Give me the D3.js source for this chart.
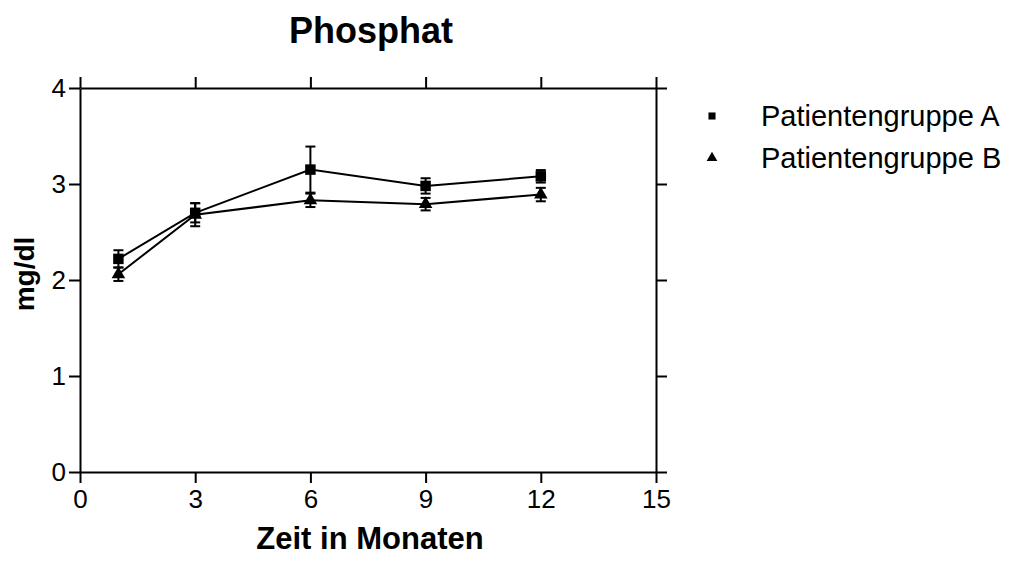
<!DOCTYPE html>
<html>
<head>
<meta charset="utf-8">
<script src="https://cdn.jsdelivr.net/npm/d3@7.9.0/dist/d3.min.js"></script>
<style>
  body { margin: 0; background: #fff; }
  text { font-family: "Liberation Sans", Arial, sans-serif; fill: #000; }
</style>
</head>
<body>
<svg id="chart"></svg>
<script>
// Phosphat over time, two patient groups (mean +/- error)
const months = [1, 3, 6, 9, 12];
const groupA = [2.22, 2.70, 3.15, 2.98, 3.08];
const errA = [0.09, 0.10, 0.24, 0.08, 0.065];
const groupB = [2.06, 2.68, 2.83, 2.79, 2.89];
const errB = [0.07, 0.12, 0.07, 0.065, 0.07];
const xTicks = [0, 3, 6, 9, 12, 15];
const yTicks = [0, 1, 2, 3, 4];
const seriesNames = ["Patientengruppe A", "Patientengruppe B"];

const W = 1023, H = 562;
const plot = { left: 80, right: 656, top: 88, bottom: 472 };
const tickLen = 11;

const svg = d3.select("#chart").attr("width", W).attr("height", H);

const x = d3.scaleLinear().domain([0, 15]).range([plot.left, plot.right]);
const y = d3.scaleLinear().domain([0, 4]).range([plot.bottom, plot.top]);

function styleAxis(g) {
  g.selectAll("path, line").attr("stroke", "#000").attr("stroke-width", 2);
  g.selectAll("text").attr("font-size", 26).attr("font-family", "Liberation Sans, Arial, sans-serif");
}

svg.append("g")
  .attr("transform", `translate(0,${plot.bottom})`)
  .call(d3.axisBottom(x).tickValues(xTicks).tickSize(tickLen).tickSizeOuter(0).tickPadding(7))
  .call(styleAxis);

svg.append("g")
  .attr("transform", `translate(0,${plot.top})`)
  .call(d3.axisTop(x).tickValues(xTicks).tickSize(tickLen).tickSizeOuter(0).tickFormat(""))
  .call(styleAxis);

svg.append("g")
  .attr("transform", `translate(${plot.left},0)`)
  .call(d3.axisLeft(y).tickValues(yTicks).tickSize(tickLen).tickSizeOuter(0).tickPadding(3).tickFormat(d3.format("d")))
  .call(styleAxis);

svg.append("g")
  .attr("transform", `translate(${plot.right},0)`)
  .call(d3.axisRight(y).tickValues(yTicks).tickSize(tickLen).tickSizeOuter(0).tickFormat(""))
  .call(styleAxis);

const series = [
  { name: seriesNames[0], vals: groupA, err: errA, symbol: d3.symbolSquare, size: 110 },
  { name: seriesNames[1], vals: groupB, err: errB, symbol: d3.symbolTriangle, size: 80 }
];

const line = d3.line().x(d => x(d.m)).y(d => y(d.v));

series.forEach(s => {
  const pts = months.map((m, i) => ({ m, v: s.vals[i], e: s.err[i] }));

  svg.append("path")
    .datum(pts)
    .attr("fill", "none")
    .attr("stroke", "#000")
    .attr("stroke-width", 2)
    .attr("d", line);

  const eb = svg.append("g").selectAll("g").data(pts).join("g");
  eb.append("line")
    .attr("x1", d => x(d.m)).attr("x2", d => x(d.m))
    .attr("y1", d => y(d.v - d.e)).attr("y2", d => y(d.v + d.e))
    .attr("stroke", "#000").attr("stroke-width", 2);
  [-1, 1].forEach(sign => {
    eb.append("line")
      .attr("x1", d => x(d.m) - 5).attr("x2", d => x(d.m) + 5)
      .attr("y1", d => y(d.v + sign * d.e)).attr("y2", d => y(d.v + sign * d.e))
      .attr("stroke", "#000").attr("stroke-width", 2);
  });

  svg.append("g").selectAll("path").data(pts).join("path")
    .attr("transform", d => `translate(${x(d.m)},${y(d.v)})`)
    .attr("d", d3.symbol(s.symbol, s.size))
    .attr("fill", "#000");
});

// legend
const legend = svg.append("g").attr("transform", "translate(712,116)");
series.forEach((s, i) => {
  const row = legend.append("g").attr("transform", `translate(0,${i * 42})`);
  row.append("path").attr("d", d3.symbol(s.symbol, 50)).attr("fill", "#000");
  row.append("text")
    .attr("x", 49).attr("dy", "0.35em")
    .attr("font-size", 29)
    .text(s.name);
});

// titles
svg.append("text")
  .attr("x", (plot.left + plot.right) / 2 + 3).attr("y", 43)
  .attr("text-anchor", "middle")
  .attr("font-size", 36).attr("font-weight", "bold")
  .text("Phosphat");

svg.append("text")
  .attr("x", (plot.left + plot.right) / 2 + 2).attr("y", 549)
  .attr("text-anchor", "middle")
  .attr("font-size", 31).attr("font-weight", "bold")
  .text("Zeit in Monaten");

svg.append("text")
  .attr("transform", `translate(34,274) rotate(-90)`)
  .attr("text-anchor", "middle")
  .attr("font-size", 28).attr("font-weight", "bold")
  .text("mg/dl");
</script>
</body>
</html>
